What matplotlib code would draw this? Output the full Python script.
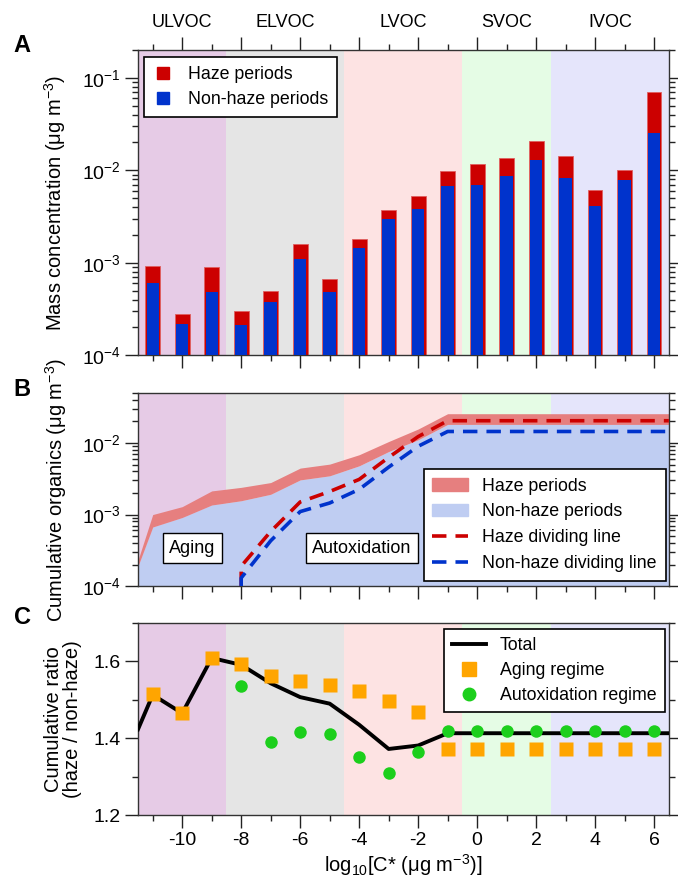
import numpy as np
import matplotlib
matplotlib.use('Agg')
import matplotlib.pyplot as plt
import matplotlib.transforms as mtransforms
from matplotlib.lines import Line2D
from matplotlib.patches import Patch
from matplotlib.ticker import MultipleLocator

plt.rcParams['font.family'] = ['Liberation Sans', 'DejaVu Sans']
plt.rcParams['mathtext.default'] = 'regular'
plt.rcParams['axes.unicode_minus'] = False
plt.rcParams['font.size'] = 14

# 휘발성 구간 (log10 C*)
logC = [-11, -10, -9, -8, -7, -6, -5, -4, -3, -2, -1, 0, 1, 2, 3, 4, 5, 6]
hazeMass = [9.1e-4, 2.7e-4, 8.8e-4, 2.9e-4, 4.9e-4, 1.58e-3, 6.5e-4, 1.79e-3, 3.7e-3,
            5.2e-3, 9.9e-3, 1.16e-2, 1.36e-2, 2.07e-2, 1.44e-2, 6.1e-3, 1.0e-2, 7.0e-2]
nonHazeMass = [5.9e-4, 2.1e-4, 4.75e-4, 2.0e-4, 3.7e-4, 1.09e-3, 4.75e-4, 1.42e-3, 2.94e-3,
               3.76e-3, 6.8e-3, 6.95e-3, 8.75e-3, 1.3e-2, 8.3e-3, 4.1e-3, 7.8e-3, 2.5e-2]

bandEdges = [-11.5, -8.5, -4.5, -0.5, 2.5, 6.5]
bandNames = ['ULVOC', 'ELVOC', 'LVOC', 'SVOC', 'IVOC']
bandColors = ['#e6cbe6', '#e5e5e5', '#fde3e3', '#e5fce5', '#e5e5fb']

# 누적 농도 (panel B)
cumX = [-11.5, -11, -10, -9, -8, -7, -6, -5, -4, -3, -2, -1, 6.5]
cumHaze = [2.3e-4, 1.0e-3, 1.29e-3, 2.14e-3, 2.4e-3, 2.8e-3, 4.46e-3, 5.07e-3, 6.86e-3,
           1.05e-2, 1.57e-2, 2.57e-2, 2.57e-2]
cumNonHaze = [1.9e-4, 6.7e-4, 9.1e-4, 1.36e-3, 1.56e-3, 1.92e-3, 3.05e-3, 3.48e-3, 4.8e-3,
              7.6e-3, 1.11e-2, 1.82e-2, 1.82e-2]

divX = [-8, -8, -7, -6, -5, -4, -3, -2, -1, 6.5]
hazeDiv = [1e-4, 1.9e-4, 5.8e-4, 1.5e-3, 2.1e-3, 3.1e-3, 6.3e-3, 1.23e-2, 2.05e-2, 2.05e-2]
nonHazeDiv = [1e-4, 1.3e-4, 4.3e-4, 1.1e-3, 1.45e-3, 2.25e-3, 4.6e-3, 9.0e-3, 1.45e-2, 1.45e-2]

# 누적 비율 (panel C)
totalX = [-11.5, -11, -10, -9, -8, -7, -6, -5, -4, -3, -2, -1, 6.5]
totalRatio = [1.423, 1.513, 1.465, 1.609, 1.591, 1.543, 1.507, 1.49, 1.435, 1.372, 1.381, 1.413, 1.413]
agingRatio = [1.515, 1.465, 1.609, 1.593, 1.561, 1.55, 1.539, 1.523, 1.498, 1.467,
              1.371, 1.371, 1.371, 1.371, 1.371, 1.371, 1.371, 1.371]
autoxX = [-8, -7, -6, -5, -4, -3, -2, -1, 0, 1, 2, 3, 4, 5, 6]
autoxRatio = [1.537, 1.391, 1.417, 1.41, 1.35, 1.309, 1.363, 1.419, 1.419, 1.419, 1.419,
              1.419, 1.419, 1.419, 1.419]

fig = plt.figure(figsize=(6.78, 8.88), dpi=100)
axA = fig.add_axes([0.2035, 0.600, 0.783, 0.3437])
axB = fig.add_axes([0.2035, 0.340, 0.783, 0.2174])
axC = fig.add_axes([0.2035, 0.0822, 0.783, 0.2162])


def draw_bands(ax):
    for i in range(len(bandNames)):
        ax.axvspan(bandEdges[i], bandEdges[i + 1], color=bandColors[i], lw=0, zorder=0)


def style_axis(ax, top=False):
    ax.set_xlim(-11.5, 6.5)
    ax.xaxis.set_major_locator(MultipleLocator(2))
    ax.xaxis.set_minor_locator(MultipleLocator(1))
    ax.tick_params(which='both', direction='out', width=1, color='#222222', labelsize=14)
    ax.tick_params(which='major', length=9.5, pad=3)
    ax.tick_params(which='minor', length=4.5)
    ax.tick_params(axis='y', which='both', left=True, right=True)
    ax.tick_params(axis='x', which='both', bottom=True, top=top)
    for s in ax.spines.values():
        s.set_linewidth(1)
        s.set_color('#333333')


# ---- A ----
draw_bands(axA)
axA.bar(logC, hazeMass, width=0.5, bottom=1e-5, color='#cc0000', edgecolor='#e06060', lw=0.6, zorder=2)
axA.bar(logC, nonHazeMass, width=0.42, bottom=1e-5, color='#0033cc', lw=0, zorder=3)
axA.set_yscale('log')
axA.set_ylim(1e-4, 0.2)
style_axis(axA, top=True)
axA.tick_params(axis='x', labelbottom=False, labeltop=False)
axA.set_ylabel('Mass concentration (μg m$^{-3}$)', fontsize=14.5)
trans = mtransforms.blended_transform_factory(axA.transData, axA.transAxes)
for i in range(len(bandNames)):
    c = (bandEdges[i] + bandEdges[i + 1]) / 2
    axA.text(c, 1.09, bandNames[i], transform=trans, ha='center', va='center', fontsize=13)
handlesA = [Line2D([], [], ls='none', marker='s', ms=9, color='#cc0000'),
            Line2D([], [], ls='none', marker='s', ms=9, color='#0033cc')]
legA = axA.legend(handlesA, ['Haze periods', 'Non-haze periods'], loc='upper left',
                  bbox_to_anchor=(0.011, 0.977), borderaxespad=0, fancybox=False, framealpha=1,
                  edgecolor='black', handlelength=1.2, fontsize=12.8, borderpad=0.5,
                  labelspacing=0.45)
legA.get_frame().set_linewidth(1.2)

# ---- B ----
draw_bands(axB)
axB.fill_between(cumX, 1e-5, cumNonHaze, color='#bfcdf2', lw=0, zorder=1)
axB.fill_between(cumX, cumNonHaze, cumHaze, color='#e67f7f', lw=0, zorder=1)
axB.plot(divX, hazeDiv, color='#cc0000', lw=2.6, dashes=(4, 2.5), zorder=3)
axB.plot(divX, nonHazeDiv, color='#0033cc', lw=2.6, dashes=(4, 2.5), zorder=3)
axB.set_yscale('log')
axB.set_ylim(1e-4, 0.05)
style_axis(axB)
axB.tick_params(axis='x', labelbottom=False)
axB.set_ylabel('Cumulative organics (μg m$^{-3}$)', fontsize=14.5)
axB.text(-9.65, 3.4e-4, 'Aging', ha='center', va='center', fontsize=13,
         bbox=dict(boxstyle='square,pad=0.35', fc='white', ec='black', lw=1), zorder=4)
axB.text(-3.9, 3.4e-4, 'Autoxidation', ha='center', va='center', fontsize=13,
         bbox=dict(boxstyle='square,pad=0.35', fc='white', ec='black', lw=1), zorder=4)
handlesB = [Patch(color='#e67f7f'), Patch(color='#bfcdf2'),
            Line2D([], [], color='#cc0000', lw=2.6, dashes=(4, 2.5)),
            Line2D([], [], color='#0033cc', lw=2.6, dashes=(4, 2.5))]
legB = axB.legend(handlesB, ['Haze periods', 'Non-haze periods', 'Haze dividing line',
                             'Non-haze dividing line'], loc='lower right',
                  bbox_to_anchor=(0.994, 0.026), borderaxespad=0, fancybox=False, framealpha=1,
                  edgecolor='black', handlelength=2.0, fontsize=12.8, borderpad=0.5,
                  labelspacing=0.5)
legB.get_frame().set_linewidth(1.2)
legB.set_zorder(5)

# ---- C ----
draw_bands(axC)
axC.plot(totalX, totalRatio, color='black', lw=2.8, zorder=3)
axC.plot(logC, agingRatio, ls='none', marker='s', ms=9.5, color='#ffa500', mec='none', zorder=4)
axC.plot(autoxX, autoxRatio, ls='none', marker='o', ms=9, color='#1ccf1c', mec='none', zorder=4)
axC.set_ylim(1.2, 1.7)
axC.yaxis.set_major_locator(MultipleLocator(0.2))
axC.yaxis.set_minor_locator(MultipleLocator(0.1))
style_axis(axC)
axC.set_ylabel('Cumulative ratio\n(haze / non-haze)', linespacing=1.0, fontsize=14.5)
axC.set_xlabel('log$_{10}$[C* (μg m$^{-3}$)]', labelpad=2, fontsize=14.5)
handlesC = [Line2D([], [], color='black', lw=2.8),
            Line2D([], [], ls='none', marker='s', ms=9.5, color='#ffa500'),
            Line2D([], [], ls='none', marker='o', ms=9, color='#1ccf1c')]
legC = axC.legend(handlesC, ['Total', 'Aging regime', 'Autoxidation regime'], loc='upper right',
                  bbox_to_anchor=(0.992, 0.969), borderaxespad=0, fancybox=False, framealpha=1,
                  edgecolor='black', handlelength=1.9, fontsize=12.8, borderpad=0.45,
                  labelspacing=0.45)
legC.get_frame().set_linewidth(1.2)

axA.yaxis.set_label_coords(-0.132, 0.5)
axB.yaxis.set_label_coords(-0.130, 0.5)
axC.yaxis.set_label_coords(-0.105, 0.5)

fig.text(0.02, 1 - 45 / 888, 'A', fontsize=17, weight='bold', va='center')
fig.text(0.02, 1 - 389 / 888, 'B', fontsize=17, weight='bold', va='center')
fig.text(0.02, 1 - 618 / 888, 'C', fontsize=17, weight='bold', va='center')

fig.savefig('out.png', dpi=100)
